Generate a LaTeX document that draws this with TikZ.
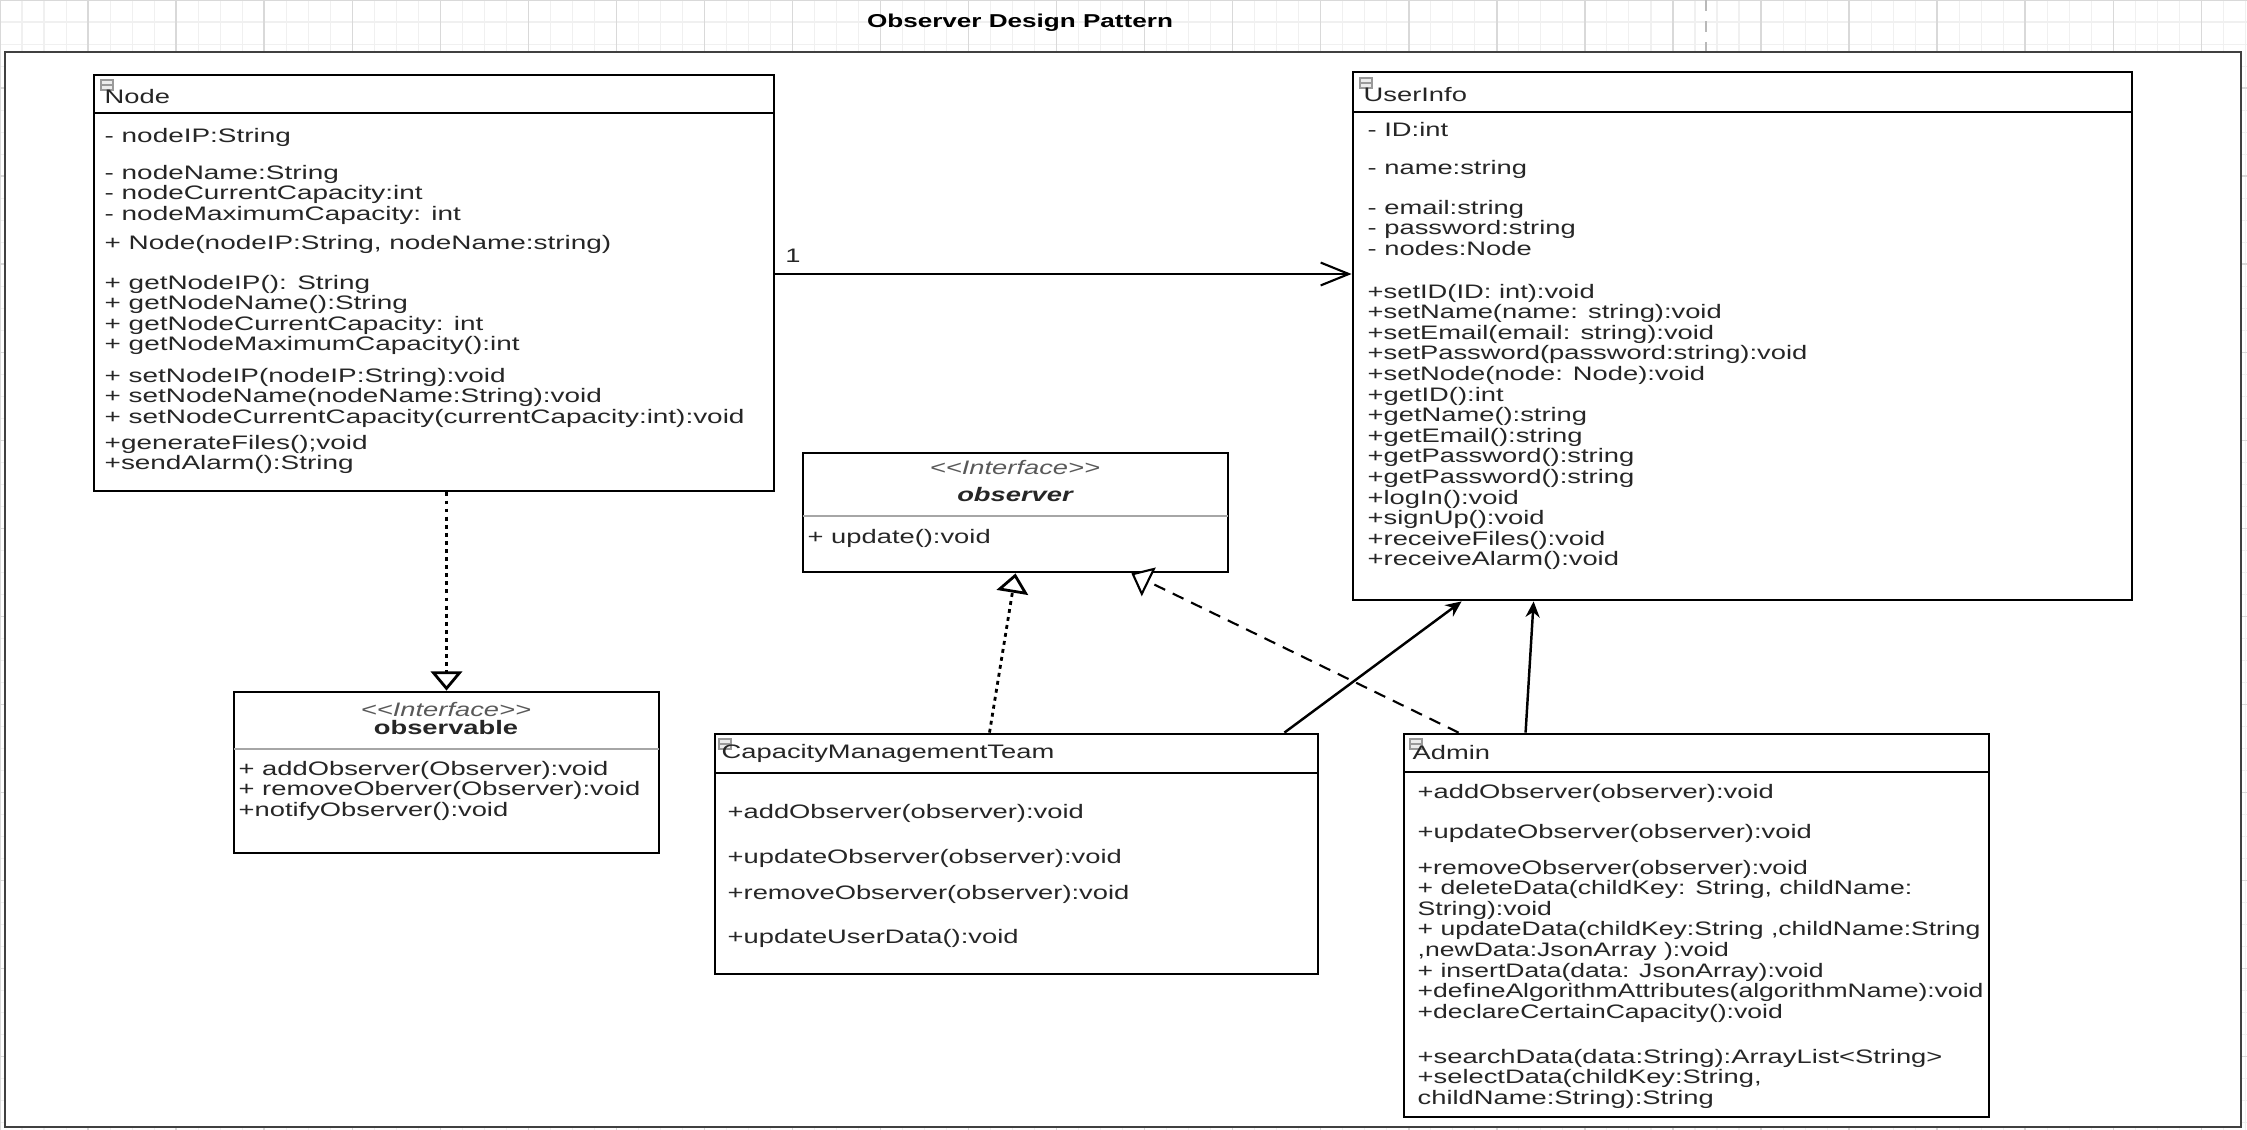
\documentclass[tikz,border=0pt]{standalone}
\usepackage{fontspec}
\setmainfont{Liberation Sans}
\usepackage{graphicx}
\usetikzlibrary{arrows.meta,fit,calc}

\newcommand{\umlsize}{\fontsize{5.55pt}{5.86pt}\selectfont}
\newcommand{\hwide}[2][1.4]{\scalebox{#1}[1]{#2}}
\newcommand{\mlines}[2][1.4]{\hwide[#1]{\begin{tabular}[t]{@{}l@{}}#2\end{tabular}}}

\tikzset{
  umlbox/.style={draw=black, line width=0.8pt, fill=white, inner sep=0pt},
  txt/.style={anchor=base west, inner sep=0pt, font=\umlsize, text=black!85},
  ctxt/.style={anchor=base, inner sep=0pt, font=\umlsize, text=black!85},
  sepline/.style={line width=0.7pt},
  thinsep/.style={line width=0.4pt, draw=gray!70},
  icon/.style={draw=gray!80, line width=0.3pt},
  assoc/.style={line width=0.6pt, -{Straight Barb[length=8pt,width=6.5pt]}},
  realize/.style={line width=0.8pt, dash pattern=on 1.1pt off 1.2pt, -{Triangle[open,length=5.5pt,width=9pt,fill=white]}},
  realizedash/.style={line width=0.6pt, dash pattern=on 3.4pt off 2.4pt, -{Triangle[open,length=5.5pt,width=9pt,fill=white]}},
  uses/.style={line width=0.7pt, -{Stealth[length=4.5pt,width=4pt]}},
}

\begin{document}
\begin{tikzpicture}[x=0.01cm, y=-0.01cm]
  \useasboundingbox (0,0) rectangle (2247,1130);

  % sheet grid and frame
  \fill[white] (0,0) rectangle (2247,1130);
  \draw[gray!12, line width=0.3pt, step=0.22cm] (0,0) grid (2247,1130);
  \draw[gray!30, line width=0.4pt, step=0.88cm] (0,0) grid (2247,1130);
  \draw[gray!55, dashed] (1706,0) -- (1706,52);
  \draw[line width=0.8pt, draw=black!75, fill=white] (5,52) rectangle (2241,1127);

  \node[font=\fontsize{5.3pt}{6pt}\selectfont\bfseries, inner sep=0pt] (title) at (1020,23) {\hwide{Observer Design Pattern}};

  % Node
  \node[umlbox, fit={(94,75) (774,491)}] (nodecls) {};
  \draw[sepline] (94,113) -- (774,113);
  \draw[icon, fill=gray!15] (101,80) rectangle +(12,10);
  \draw[icon] (101,85) -- +(12,0);
  \node[txt] (nodetitle) at (104,103) {\hwide{Node}};
  \node[txt] (nodeip) at (104,142) {\mlines[1.43]{- nodeIP:String}};
  \node[txt] (nodeattr) at (104,179) {\mlines[1.43]{- nodeName:String\\- nodeCurrentCapacity:int\\- nodeMaximumCapacity: int}};
  \node[txt] (nodector) at (104,249) {\mlines[1.43]{+ Node(nodeIP:String, nodeName:string)}};
  \node[txt] (nodeget) at (104,289) {\mlines[1.43]{+ getNodeIP(): String\\+ getNodeName():String\\+ getNodeCurrentCapacity: int\\+ getNodeMaximumCapacity():int}};
  \node[txt] (nodeset) at (104,382) {\mlines[1.43]{+ setNodeIP(nodeIP:String):void\\+ setNodeName(nodeName:String):void\\+ setNodeCurrentCapacity(currentCapacity:int):void}};
  \node[txt] (nodeops) at (104,449) {\mlines[1.43]{+generateFiles();void\\+sendAlarm():String}};

  % UserInfo
  \node[umlbox, fit={(1353,72) (2132,600)}] (userinfo) {};
  \draw[sepline] (1353,112) -- (2132,112);
  \draw[icon, fill=gray!15] (1360,78) rectangle +(12,10);
  \draw[icon] (1360,83) -- +(12,0);
  \node[txt] (usertitle) at (1363,101) {\hwide{UserInfo}};
  \node[txt] (userid) at (1367,136) {\mlines{- ID:int}};
  \node[txt] (username) at (1367,174) {\mlines{- name:string}};
  \node[txt] (userattr) at (1367,214) {\mlines{- email:string\\- password:string\\- nodes:Node}};
  \node[txt] (userops) at (1367,298) {\mlines{+setID(ID: int):void\\+setName(name: string):void\\+setEmail(email: string):void\\+setPassword(password:string):void\\+setNode(node: Node):void\\+getID():int\\+getName():string\\+getEmail():string\\+getPassword():string\\+getPassword():string\\+logIn():void\\+signUp():void\\+receiveFiles():void\\+receiveAlarm():void}};

  % observer interface
  \node[umlbox, fit={(803,453) (1228,572)}] (observer) {};
  \draw[thinsep] (803,516) -- (1228,516);
  \node[ctxt, text=black!65] (obsstereo) at (1015,474) {\hwide{\itshape <{}<Interface>{}>}};
  \node[ctxt] (obsname) at (1015,501) {\hwide{\bfseries\itshape observer}};
  \node[txt] (obsops) at (807,543) {\mlines{+ update():void}};

  % observable interface
  \node[umlbox, fit={(234,692) (659,853)}] (observable) {};
  \draw[thinsep] (234,749) -- (659,749);
  \node[ctxt, text=black!65] (oblstereo) at (446,716) {\hwide{\itshape <{}<Interface>{}>}};
  \node[ctxt] (oblname) at (446,734) {\hwide{\bfseries observable}};
  \node[txt] (oblops) at (238,775) {\mlines{+ addObserver(Observer):void\\+ removeOberver(Observer):void\\+notifyObserver():void}};

  % CapacityManagementTeam
  \node[umlbox, fit={(715,734) (1318,974)}] (cmt) {};
  \draw[sepline] (715,773) -- (1318,773);
  \draw[icon, fill=gray!15] (719,739) rectangle +(12,10);
  \draw[icon] (719,744) -- +(12,0);
  \node[txt] (cmttitle) at (721,758) {\hwide{CapacityManagementTeam}};
  \node[txt] (cmtadd) at (727,818) {\mlines{+addObserver(observer):void}};
  \node[txt] (cmtupd) at (727,863) {\mlines{+updateObserver(observer):void}};
  \node[txt] (cmtrem) at (727,899) {\mlines{+removeObserver(observer):void}};
  \node[txt] (cmtdata) at (727,943) {\mlines{+updateUserData():void}};

  % Admin
  \node[umlbox, fit={(1404,734) (1989,1117)}] (admin) {};
  \draw[sepline] (1404,772) -- (1989,772);
  \draw[icon, fill=gray!15] (1410,739) rectangle +(12,10);
  \draw[icon] (1410,744) -- +(12,0);
  \node[txt] (admintitle) at (1412,759) {\hwide{Admin}};
  \node[txt] (adminadd) at (1417,798) {\mlines{+addObserver(observer):void}};
  \node[txt] (adminupd) at (1417,838) {\mlines{+updateObserver(observer):void}};
  \node[txt] (admindata) at (1417,874) {\mlines[1.36]{+removeObserver(observer):void\\+ deleteData(childKey: String, childName:\\String):void\\+ updateData(childKey:String ,childName:String\\,newData:JsonArray ):void\\+ insertData(data: JsonArray):void\\+defineAlgorithmAttributes(algorithmName):void\\+declareCertainCapacity():void}};
  \node[txt] (adminsearch) at (1417,1063) {\mlines{+searchData(data:String):ArrayList<String>\\+selectData(childKey:String,\\childName:String):String}};

  % connectors
  \draw[assoc] ($(nodecls.east)+(0,-9)$) -- ($(userinfo.west)+(0,-62)$);
  \node[ctxt] (mult) at (793,262) {\hwide{1}};
  \draw[realize] (observable.north |- nodecls.south) -- (observable.north);
  \draw[realize] ($(cmt.north)+(-27,0)$) -- (observer.south);
  \draw[realizedash] ($(admin.north west)+(56,0)$) -- ($(observer.south east)+(-98,0)$);
  \draw[uses] ($(cmt.north east)+(-35,0)$) -- ($(userinfo.south west)+(110,0)$);
  \draw[uses] ($(admin.north west)+(123,0)$) -- ($(userinfo.south west)+(182,0)$);
\end{tikzpicture}
\end{document}
